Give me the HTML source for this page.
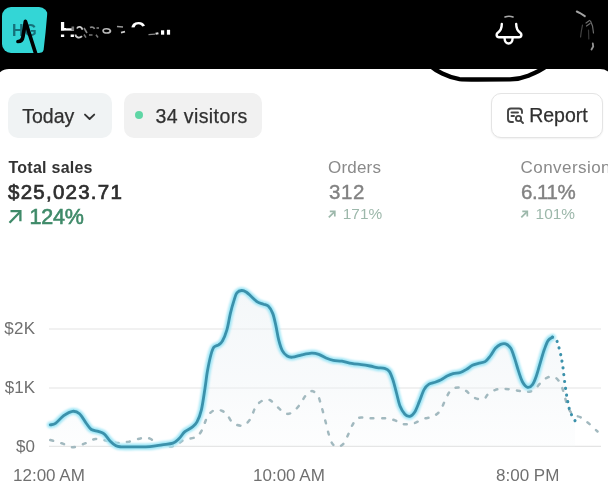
<!DOCTYPE html>
<html lang="en">
<head>
<meta charset="utf-8">
<title>Dashboard</title>
<style>
html,body{margin:0;padding:0;}
body{width:608px;height:498px;overflow:hidden;background:#000;font-family:"Liberation Sans",sans-serif;position:relative;}
#app{position:absolute;left:0;top:0;width:608px;height:498px;overflow:hidden;background:#000;}
.panel{position:absolute;left:-5px;top:68.8px;width:619px;height:440px;background:#fff;border-radius:14px 14px 0 0;}
.logo{position:absolute;left:1.5px;top:7px;width:46px;height:46px;border-radius:9px;background:#33d6d6;}
.logo span{position:absolute;left:10.5px;top:15px;font-size:16px;line-height:18px;font-weight:bold;color:#16717a;letter-spacing:0.6px;}
.nm{position:absolute;color:#fff;font-weight:bold;font-size:22px;line-height:24px;white-space:nowrap;}
.abs{position:absolute;white-space:nowrap;}
.btn{position:absolute;top:93px;height:44.5px;border-radius:10px;background:#f1f3f4;box-sizing:border-box;}
.btn .t{position:absolute;top:11.5px;font-size:19.5px;line-height:22px;color:#303030;white-space:nowrap;-webkit-text-stroke:0.25px #303030;}
.lbl{font-size:16px;line-height:18px;}
svg{position:absolute;left:0;top:0;}
</style>
</head>
<body>
<div id="app">
  <div class="panel"></div>

  <!-- header -->
  <div class="logo"><span>HG</span></div>
  <div class="nm" style="left:59.6px;top:18.2px;">H</div>
  <div class="nm" style="left:130.5px;top:17px;font-size:21px;">C</div>

  <!-- buttons -->
  <div class="btn" style="left:7.7px;width:104.5px;background:#f0f3f4;"><span class="t" style="left:14.5px;">Today</span></div>
  <div class="btn" style="left:123.5px;width:138.5px;background:#f1f1f1;"><span class="t" style="left:32px;letter-spacing:0.4px;">34 visitors</span></div>
  <div class="btn" style="left:491.4px;width:111.8px;background:#fff;border:1px solid #e4e4e4;box-shadow:0 1px 2px rgba(0,0,0,0.06);"><span class="t" style="left:36.8px;top:10px;">Report</span></div>

  <!-- stats -->
  <div class="abs" style="left:8.5px;top:158px;font-size:16px;line-height:20px;font-weight:bold;color:#333;letter-spacing:0.25px;">Total sales</div>
  <div class="abs" style="left:8px;top:180px;font-size:20.5px;line-height:24px;color:#2e2e2e;-webkit-text-stroke:0.7px #2e2e2e;letter-spacing:1.25px;">$25,023.71</div>
  <div class="abs" style="left:29.5px;top:204.7px;font-size:21.5px;line-height:24px;color:#3f8a69;-webkit-text-stroke:0.6px #3f8a69;letter-spacing:-0.2px;">124%</div>

  <div class="abs" style="left:328px;top:158px;font-size:17px;line-height:20px;color:#8a8a8a;letter-spacing:0.2px;">Orders</div>
  <div class="abs" style="left:329px;top:179.8px;font-size:20.5px;line-height:24px;color:#828282;-webkit-text-stroke:0.4px #828282;letter-spacing:0.6px;">312</div>
  <div class="abs" style="left:342.8px;top:204.3px;font-size:15.4px;line-height:20px;color:#9db8ab;">171%</div>

  <div class="abs" style="left:520.5px;top:158px;font-size:17px;line-height:20px;color:#8a8a8a;letter-spacing:0.45px;">Conversion</div>
  <div class="abs" style="left:521px;top:179.8px;font-size:20.5px;line-height:24px;color:#828282;-webkit-text-stroke:0.4px #828282;letter-spacing:-0.5px;">6.11%</div>
  <div class="abs" style="left:535.6px;top:204.3px;font-size:15.4px;line-height:20px;color:#9db8ab;">101%</div>

  <!-- axis labels -->
  <div class="abs" style="left:0;width:35.3px;text-align:right;top:319px;font-size:17px;line-height:20px;color:#707070;letter-spacing:0.3px;">$2K</div>
  <div class="abs" style="left:0;width:35px;text-align:right;top:378px;font-size:17px;line-height:20px;color:#707070;">$1K</div>
  <div class="abs" style="left:0;width:35px;text-align:right;top:437px;font-size:17px;line-height:20px;color:#707070;">$0</div>
  <div class="abs" style="left:13px;top:466px;font-size:17px;line-height:20px;color:#707070;">12:00 AM</div>
  <div class="abs" style="left:253px;top:466px;font-size:17px;line-height:20px;color:#707070;">10:00 AM</div>
  <div class="abs" style="left:496px;top:466px;font-size:17px;line-height:20px;color:#707070;">8:00 PM</div>

  <svg width="608" height="498" viewBox="0 0 608 498">
    <defs>
      <linearGradient id="ag" gradientUnits="userSpaceOnUse" x1="0" y1="290" x2="0" y2="446">
        <stop offset="0" stop-color="#ebf1f4" stop-opacity="0.55"/>
        <stop offset="0.6" stop-color="#eef3f6" stop-opacity="0.4"/>
        <stop offset="1" stop-color="#f4f7f9" stop-opacity="0.2"/>
      </linearGradient>
      <filter id="glow" x="-5%" y="-5%" width="110%" height="110%"><feGaussianBlur stdDeviation="1.2"/></filter>
      <filter id="soft" x="-5%" y="-5%" width="110%" height="110%"><feGaussianBlur stdDeviation="0.5"/></filter>
    </defs>
    <!-- header scribbles -->
    <g fill="none" stroke="#000" stroke-linecap="round" stroke-linejoin="round">
      <path d="M18,41.5 C21,41.5 22.5,40 23,36.5 L25.4,21.3 L35.8,54" stroke-width="3.7"/>
      <path d="M47.4,12 L48.6,12 L48.6,54 L41.5,54 L43.6,50 L45.6,32 Z" fill="#000" stroke="none"/>
      <path d="M57,32.6 L180,32.6" stroke-width="3.6" stroke-linecap="butt"/>
      <path d="M66,20 L78,20 L78,28.3 L66,28.3 Z" fill="#000" stroke="none"/>
      <path d="M126,27.4 L150,27.4 L150,42 L126,42 Z" fill="#000" stroke="none"/>
      <path d="M144.5,18 L150,18 L150,28 L145.5,28 Z" fill="#000" stroke="none"/>
      <path d="M57,38.2 L180,38.2 L180,44 L57,44 Z" fill="#000" stroke="none"/>
    </g>
    <g fill="none" stroke-linecap="butt">
      <path d="M72.8,26.5 L72.8,30.6" stroke="#777" stroke-width="2.6"/>
      <path d="M75.5,34.6 C75.5,38 80,38.4 82,36.2 M77,28.5 C78,26 82,26.2 82.3,29.8" stroke="#ccc" stroke-width="1.8"/>
      <path d="M84,34.5 L86,37.6 M89,35 L92.5,35 M96,34.8 L98,37.5" stroke="#777" stroke-width="1.5"/>
      <path d="M84,28 L87,33 M90,27.5 C92,26.5 94,27.5 94.5,29 M96.5,28 L99,28" stroke="#888" stroke-width="1.6"/>
      <path d="M103,31 C103,28 110,28 110.5,31 C110,33.5 104,34 103,31" stroke="#bbb" stroke-width="1.6"/>
      <path d="M117,26.6 L123,27" stroke="#999" stroke-width="1.5"/>
      <path d="M121,32.6 L125,31.6" stroke="#ccc" stroke-width="1.6"/>
      <path d="M148.5,34.6 L155,34.2" stroke="#888" stroke-width="1.2"/>
      <path d="M155.5,33.8 L158.4,33.2" stroke="#ddd" stroke-width="2"/>
      <path d="M162.6,30.3 L162.6,34.7" stroke="#fff" stroke-width="3.2"/>
      <path d="M168.5,29.8 L168.5,34.7" stroke="#fff" stroke-width="3.2"/>
    </g>
    <g fill="none" stroke="#000" stroke-linecap="round" stroke-linejoin="round">
      <path d="M430.5,66 C434,69 438,71.5 442.3,73.5 C447,75.8 452,78 459.5,79.1 C463,79.5 470,79.5 478,79.5 L510,79.4 C518,79.3 523,77.8 528.3,75.7 C534,73.3 540,71 546,66.5" stroke-width="4.3"/>
    </g>
    <!-- bell -->
    <g fill="none" stroke="#fff" stroke-width="2.4" stroke-linecap="round" stroke-linejoin="round">
      <path d="M501.8,24 C501.8,29 500.3,31 497.8,32.7 C496,33.9 496.3,37.2 499,37.2 L519,37.2 C521.7,37.2 522,33.9 520.2,32.7 C517.7,31 516.2,29 516.2,24"/>
      <path d="M504.6,38.2 C504.6,45.2 512.6,45.2 512.6,38.2"/>
      <path d="M505,17 C507.5,16 510.5,16 513,17" stroke="#aaa" stroke-width="1.6"/>
    </g>
    <!-- right scribble -->
    <g fill="none" stroke="#777" stroke-width="1.2" stroke-linecap="round" opacity="0.8">
      <path d="M576.8,11.5 L580,13 L584.8,16.2" stroke="#ccc" stroke-width="2"/>
      <path d="M586,23 L589.5,20.5 M586.5,26 L590,23.5 M590.5,21 L592.5,26 L593.5,33" stroke="#888"/>
      <path d="M582.5,25 L581.2,32 L580.6,37" stroke="#555"/>
      <path d="M588.5,30 L588.8,39" stroke="#444"/>
      <path d="M592.8,43.5 L593.2,46.5 L591.5,49.5" stroke="#bbb" stroke-width="1.8"/>
    </g>
    <!-- today chevron -->
    <path d="M85,114.6 L89.6,119 L94.2,114.6" fill="none" stroke="#333" stroke-width="1.9" stroke-linecap="round" stroke-linejoin="round"/>
    <!-- visitors dot -->
    <circle cx="139" cy="115" r="4" fill="#5fd6a5"/>
    <!-- report icon -->
    <g fill="none" stroke="#444" stroke-width="1.9" stroke-linecap="round" stroke-linejoin="round">
      <path d="M513,122 L511,122 C509,122 508,121 508,119 L508,111.5 C508,109.5 509,108.5 511,108.5 L519,108.5 C521,108.5 522,109.5 522,111.5 L522,113"/>
      <path d="M511.5,112.5 L518,112.5"/>
      <path d="M511.5,116 L514,116"/>
      <circle cx="518.5" cy="118.5" r="2.6"/>
      <path d="M520.6,120.6 L523,123"/>
    </g>
    <!-- arrows -->
    <g fill="none" stroke="#3f8a69" stroke-width="2.3" stroke-linecap="butt" stroke-linejoin="miter">
      <path d="M9.5,222.8 L20,212"/><path d="M10.5,211.2 L20.4,211.2 L20.4,221.2"/>
    </g>
    <g fill="none" stroke="#9db8ab" stroke-width="1.7">
      <path d="M328.8,217.4 L334.4,211.8"/><path d="M329.8,211.3 L334.8,211.3 L334.8,216.4"/>
      <path d="M521.3,217.4 L526.9,211.8"/><path d="M522.3,211.3 L527.3,211.3 L527.3,216.4"/>
    </g>
    <!-- grid -->
    <g stroke="#e4e4e4" stroke-width="1.2">
      <line x1="49" y1="329" x2="601" y2="329"/>
      <line x1="49" y1="388" x2="601" y2="388"/>
      <line x1="49" y1="446.3" x2="601" y2="446.3"/>
    </g>
    <!-- area -->
    <path d="M50.3,424.9C51.2,424.6 53.3,424.9 55.5,423.4C57.7,421.9 60.9,417.7 63.7,415.7C66.5,413.7 70.0,411.6 72.6,411.3C75.2,411.0 77.2,411.7 79.5,413.7C81.8,415.7 84.4,420.9 86.4,423.5C88.4,426.1 89.3,428.2 91.3,429.5C93.3,430.8 96.1,430.7 98.2,431.4C100.3,432.1 102.1,432.2 104.1,433.8C106.1,435.4 108.0,438.9 110.0,440.9C112.0,442.9 114.2,444.7 116.0,445.7C117.8,446.7 117.8,446.6 121.0,446.8C124.2,447.0 130.2,446.8 135.0,446.8C139.8,446.8 145.5,446.9 150.0,446.6C154.5,446.3 158.2,445.4 162.0,444.8C165.8,444.2 170.1,444.1 172.9,443.1C175.7,442.1 176.9,440.7 178.9,438.8C180.9,436.9 182.7,433.5 184.9,431.6C187.1,429.7 190.2,428.8 192.2,427.2C194.2,425.6 195.5,424.8 197.0,421.9C198.5,419.0 200.1,415.5 201.4,409.9C202.7,404.3 204.0,394.6 205.0,388.2C206.0,381.8 206.4,376.9 207.4,371.3C208.4,365.7 209.9,358.5 211.0,354.5C212.1,350.5 212.6,348.8 213.9,347.2C215.2,345.6 217.3,345.8 218.7,344.8C220.1,343.8 221.0,343.6 222.3,341.2C223.7,338.8 225.5,334.8 226.8,330.2C228.2,325.6 229.2,318.4 230.4,313.4C231.6,308.4 233.0,303.5 234.1,300.1C235.2,296.7 235.6,294.5 236.9,292.9C238.2,291.3 240.1,290.6 241.7,290.5C243.3,290.4 244.9,291.2 246.5,292.2C248.1,293.2 249.5,294.9 251.3,296.5C253.1,298.1 255.3,300.5 257.3,301.8C259.3,303.1 261.6,303.5 263.4,304.2C265.2,304.9 266.6,304.6 268.2,306.1C269.8,307.6 271.4,310.2 272.7,313.4C274.0,316.6 274.8,321.0 275.8,325.4C276.8,329.8 277.6,335.7 278.7,339.9C279.8,344.1 280.9,348.0 282.3,350.7C283.7,353.4 285.5,354.9 287.2,356.0C288.9,357.1 289.9,357.4 292.3,357.2C294.8,357.0 298.7,355.5 301.9,354.8C305.1,354.1 308.8,353.2 311.6,353.1C314.4,353.0 316.4,353.5 318.8,354.3C321.2,355.1 323.6,357.0 326.0,358.0C328.4,359.0 330.7,359.9 333.3,360.4C335.9,360.9 338.8,360.7 341.9,361.2C344.9,361.7 348.4,362.8 351.6,363.4C354.8,364.0 358.1,364.2 361.2,364.6C364.3,365.0 367.3,365.5 370.0,366.0C372.7,366.5 374.8,367.3 377.2,367.7C379.6,368.1 382.5,367.8 384.5,368.4C386.5,369.0 387.9,369.4 389.3,371.3C390.7,373.2 391.7,376.2 392.9,379.8C394.1,383.4 395.3,388.6 396.5,393.0C397.7,397.4 398.7,402.8 400.1,406.3C401.5,409.8 403.3,412.5 404.9,414.2C406.5,415.9 408.2,416.7 409.8,416.4C411.4,416.1 413.0,414.8 414.6,412.3C416.2,409.8 417.8,405.2 419.4,401.4C421.0,397.6 422.6,392.3 424.2,389.4C425.8,386.5 427.2,385.3 429.0,384.1C430.8,382.9 433.1,382.9 435.1,382.2C437.1,381.5 439.1,380.8 441.1,379.8C443.1,378.8 445.1,377.1 447.1,376.1C449.1,375.1 450.9,374.3 453.1,373.7C455.3,373.1 458.2,373.2 460.4,372.5C462.6,371.8 464.4,370.6 466.4,369.4C468.4,368.2 470.4,366.3 472.4,365.3C474.4,364.3 476.3,364.0 478.4,363.4C480.5,362.8 483.1,362.8 485.1,361.6C487.1,360.4 488.6,358.2 490.3,356.0C492.0,353.8 493.7,350.2 495.4,348.3C497.1,346.4 498.9,345.1 500.6,344.4C502.3,343.7 504.0,343.2 505.7,343.9C507.4,344.5 509.3,345.9 510.8,348.3C512.3,350.8 513.4,354.8 514.7,358.6C516.0,362.5 517.3,367.5 518.6,371.4C519.9,375.2 520.9,379.0 522.4,381.7C523.9,384.4 525.9,386.9 527.6,387.3C529.3,387.7 531.2,386.3 532.7,384.3C534.2,382.3 535.3,379.0 536.6,375.3C537.9,371.6 539.1,366.7 540.4,362.4C541.7,358.1 543.0,353.2 544.3,349.6C545.6,346.0 546.7,342.7 548.1,340.6C549.5,338.5 551.8,337.8 552.5,337.2C553.2,336.6 552.0,337.0 552.5,337.2C553.0,337.4 554.8,337.1 555.8,338.5C556.8,339.9 557.5,342.8 558.4,345.7C559.3,348.6 560.3,352.6 561.0,356.0C561.7,359.4 562.2,362.4 562.8,366.3C563.3,370.2 563.8,374.8 564.3,379.1C564.8,383.4 565.5,388.1 566.1,392.0C566.7,395.9 567.2,399.1 567.9,402.3C568.5,405.5 569.2,409.0 570.0,411.3C570.8,413.6 571.6,414.8 572.5,416.4C573.4,418.0 574.7,420.1 575.1,420.8L575.1,446.5L50.3,446.5Z" fill="url(#ag)"/>
    <!-- dashed -->
    <path d="M50.3,440.0C52.2,440.6 58.0,442.1 61.7,443.3C65.4,444.5 68.8,447.1 72.6,447.2C76.4,447.3 80.6,445.1 84.4,443.7C88.2,442.3 91.5,439.5 95.3,439.0C99.1,438.5 103.2,440.1 107.0,440.7C110.8,441.3 114.4,442.7 118.0,442.9C121.6,443.1 125.0,442.4 128.8,441.7C132.6,440.9 137.1,438.9 140.6,438.4C144.1,437.9 146.8,437.4 150.0,438.6C153.2,439.8 155.6,444.3 159.6,445.5C163.6,446.7 170.1,446.9 174.1,446.0C178.1,445.1 180.1,441.5 183.7,440.0C187.3,438.5 192.8,438.7 195.8,437.1C198.8,435.5 199.8,433.9 201.8,430.4C203.8,426.9 205.6,419.3 207.8,415.9C210.0,412.5 212.6,410.7 215.0,409.9C217.4,409.1 220.3,410.2 222.3,411.0C224.3,411.8 225.3,412.7 227.1,414.7C228.9,416.7 230.5,421.3 233.1,423.1C235.7,424.9 240.0,426.1 242.8,425.5C245.6,424.9 247.8,422.7 250.0,419.5C252.2,416.3 253.8,409.5 256.0,406.3C258.2,403.1 261.0,401.2 263.3,400.2C265.6,399.2 267.6,399.0 270.0,400.2C272.4,401.4 275.4,405.3 278.0,407.5C280.6,409.7 282.9,412.7 285.3,413.5C287.7,414.3 290.1,413.8 292.5,412.3C294.9,410.8 297.6,407.4 299.8,404.6C302.0,401.8 303.8,397.6 305.8,395.4C307.8,393.1 309.8,391.1 311.8,391.1C313.8,391.1 316.2,392.9 317.8,395.4C319.4,397.9 320.2,402.3 321.4,406.3C322.6,410.3 323.8,414.9 325.0,419.5C326.2,424.1 327.5,430.0 328.7,434.0C329.9,438.0 330.9,441.5 332.3,443.6C333.7,445.7 335.3,446.6 337.1,446.7C338.9,446.8 341.3,446.0 343.1,444.1C344.9,442.2 346.3,438.5 347.9,435.2C349.5,431.9 351.2,427.1 352.8,424.3C354.4,421.5 355.8,419.4 357.6,418.3C359.4,417.2 361.4,417.6 363.6,417.6C365.8,417.6 367.3,418.2 370.8,418.3C374.3,418.4 380.6,418.0 384.5,418.3C388.4,418.6 391.3,419.1 394.1,420.0C396.9,420.9 399.1,422.9 401.3,423.6C403.5,424.3 405.1,424.4 407.3,424.3C409.5,424.2 412.0,424.0 414.6,423.1C417.2,422.2 420.0,420.1 423.0,419.0C426.0,417.9 429.9,417.9 432.7,416.6C435.5,415.3 437.9,413.6 439.9,411.1C441.9,408.6 443.1,404.6 444.7,401.4C446.3,398.2 447.9,394.0 449.5,391.8C451.1,389.6 452.5,388.9 454.3,388.2C456.1,387.5 458.4,387.2 460.4,387.7C462.4,388.2 464.4,389.6 466.4,391.1C468.4,392.6 470.4,395.3 472.4,396.6C474.4,397.9 476.4,398.7 478.4,399.0C480.4,399.3 482.9,399.3 484.5,398.6C486.1,397.9 485.9,396.1 487.7,394.6C489.5,393.2 492.8,390.8 495.4,389.9C498.0,388.9 500.5,389.0 503.1,388.9C505.7,388.8 508.2,389.1 510.8,389.4C513.4,389.7 516.0,390.3 518.6,390.7C521.2,391.1 523.7,392.1 526.3,392.0C528.9,391.9 531.6,391.4 534.0,389.9C536.4,388.4 538.3,385.0 540.4,383.0C542.5,381.0 544.6,378.9 546.8,377.8C548.9,376.7 551.4,376.2 553.3,376.6C555.2,377.0 556.9,378.5 558.4,380.4C559.9,382.3 561.2,385.3 562.3,388.1C563.4,390.9 563.7,393.7 564.8,397.1C565.9,400.5 567.2,405.7 568.7,408.7C570.2,411.7 571.9,413.7 573.8,415.1C575.7,416.5 577.9,415.9 580.3,417.2C582.7,418.5 585.1,420.4 588.0,422.8C590.9,425.2 595.9,430.1 597.5,431.5" fill="none" stroke="#a2b9bf" stroke-width="2.5" stroke-dasharray="3 8.4" stroke-linecap="round"/>
    <!-- glow -->
    <path d="M50.3,424.9C51.2,424.6 53.3,424.9 55.5,423.4C57.7,421.9 60.9,417.7 63.7,415.7C66.5,413.7 70.0,411.6 72.6,411.3C75.2,411.0 77.2,411.7 79.5,413.7C81.8,415.7 84.4,420.9 86.4,423.5C88.4,426.1 89.3,428.2 91.3,429.5C93.3,430.8 96.1,430.7 98.2,431.4C100.3,432.1 102.1,432.2 104.1,433.8C106.1,435.4 108.0,438.9 110.0,440.9C112.0,442.9 114.2,444.7 116.0,445.7C117.8,446.7 117.8,446.6 121.0,446.8C124.2,447.0 130.2,446.8 135.0,446.8C139.8,446.8 145.5,446.9 150.0,446.6C154.5,446.3 158.2,445.4 162.0,444.8C165.8,444.2 170.1,444.1 172.9,443.1C175.7,442.1 176.9,440.7 178.9,438.8C180.9,436.9 182.7,433.5 184.9,431.6C187.1,429.7 190.2,428.8 192.2,427.2C194.2,425.6 195.5,424.8 197.0,421.9C198.5,419.0 200.1,415.5 201.4,409.9C202.7,404.3 204.0,394.6 205.0,388.2C206.0,381.8 206.4,376.9 207.4,371.3C208.4,365.7 209.9,358.5 211.0,354.5C212.1,350.5 212.6,348.8 213.9,347.2C215.2,345.6 217.3,345.8 218.7,344.8C220.1,343.8 221.0,343.6 222.3,341.2C223.7,338.8 225.5,334.8 226.8,330.2C228.2,325.6 229.2,318.4 230.4,313.4C231.6,308.4 233.0,303.5 234.1,300.1C235.2,296.7 235.6,294.5 236.9,292.9C238.2,291.3 240.1,290.6 241.7,290.5C243.3,290.4 244.9,291.2 246.5,292.2C248.1,293.2 249.5,294.9 251.3,296.5C253.1,298.1 255.3,300.5 257.3,301.8C259.3,303.1 261.6,303.5 263.4,304.2C265.2,304.9 266.6,304.6 268.2,306.1C269.8,307.6 271.4,310.2 272.7,313.4C274.0,316.6 274.8,321.0 275.8,325.4C276.8,329.8 277.6,335.7 278.7,339.9C279.8,344.1 280.9,348.0 282.3,350.7C283.7,353.4 285.5,354.9 287.2,356.0C288.9,357.1 289.9,357.4 292.3,357.2C294.8,357.0 298.7,355.5 301.9,354.8C305.1,354.1 308.8,353.2 311.6,353.1C314.4,353.0 316.4,353.5 318.8,354.3C321.2,355.1 323.6,357.0 326.0,358.0C328.4,359.0 330.7,359.9 333.3,360.4C335.9,360.9 338.8,360.7 341.9,361.2C344.9,361.7 348.4,362.8 351.6,363.4C354.8,364.0 358.1,364.2 361.2,364.6C364.3,365.0 367.3,365.5 370.0,366.0C372.7,366.5 374.8,367.3 377.2,367.7C379.6,368.1 382.5,367.8 384.5,368.4C386.5,369.0 387.9,369.4 389.3,371.3C390.7,373.2 391.7,376.2 392.9,379.8C394.1,383.4 395.3,388.6 396.5,393.0C397.7,397.4 398.7,402.8 400.1,406.3C401.5,409.8 403.3,412.5 404.9,414.2C406.5,415.9 408.2,416.7 409.8,416.4C411.4,416.1 413.0,414.8 414.6,412.3C416.2,409.8 417.8,405.2 419.4,401.4C421.0,397.6 422.6,392.3 424.2,389.4C425.8,386.5 427.2,385.3 429.0,384.1C430.8,382.9 433.1,382.9 435.1,382.2C437.1,381.5 439.1,380.8 441.1,379.8C443.1,378.8 445.1,377.1 447.1,376.1C449.1,375.1 450.9,374.3 453.1,373.7C455.3,373.1 458.2,373.2 460.4,372.5C462.6,371.8 464.4,370.6 466.4,369.4C468.4,368.2 470.4,366.3 472.4,365.3C474.4,364.3 476.3,364.0 478.4,363.4C480.5,362.8 483.1,362.8 485.1,361.6C487.1,360.4 488.6,358.2 490.3,356.0C492.0,353.8 493.7,350.2 495.4,348.3C497.1,346.4 498.9,345.1 500.6,344.4C502.3,343.7 504.0,343.2 505.7,343.9C507.4,344.5 509.3,345.9 510.8,348.3C512.3,350.8 513.4,354.8 514.7,358.6C516.0,362.5 517.3,367.5 518.6,371.4C519.9,375.2 520.9,379.0 522.4,381.7C523.9,384.4 525.9,386.9 527.6,387.3C529.3,387.7 531.2,386.3 532.7,384.3C534.2,382.3 535.3,379.0 536.6,375.3C537.9,371.6 539.1,366.7 540.4,362.4C541.7,358.1 543.0,353.2 544.3,349.6C545.6,346.0 546.7,342.7 548.1,340.6C549.5,338.5 551.8,337.8 552.5,337.2" fill="none" stroke="#9fe6f6" stroke-width="6.6" stroke-linecap="round" stroke-linejoin="round" filter="url(#glow)"/>
    <!-- solid -->
    <path d="M50.3,424.9C51.2,424.6 53.3,424.9 55.5,423.4C57.7,421.9 60.9,417.7 63.7,415.7C66.5,413.7 70.0,411.6 72.6,411.3C75.2,411.0 77.2,411.7 79.5,413.7C81.8,415.7 84.4,420.9 86.4,423.5C88.4,426.1 89.3,428.2 91.3,429.5C93.3,430.8 96.1,430.7 98.2,431.4C100.3,432.1 102.1,432.2 104.1,433.8C106.1,435.4 108.0,438.9 110.0,440.9C112.0,442.9 114.2,444.7 116.0,445.7C117.8,446.7 117.8,446.6 121.0,446.8C124.2,447.0 130.2,446.8 135.0,446.8C139.8,446.8 145.5,446.9 150.0,446.6C154.5,446.3 158.2,445.4 162.0,444.8C165.8,444.2 170.1,444.1 172.9,443.1C175.7,442.1 176.9,440.7 178.9,438.8C180.9,436.9 182.7,433.5 184.9,431.6C187.1,429.7 190.2,428.8 192.2,427.2C194.2,425.6 195.5,424.8 197.0,421.9C198.5,419.0 200.1,415.5 201.4,409.9C202.7,404.3 204.0,394.6 205.0,388.2C206.0,381.8 206.4,376.9 207.4,371.3C208.4,365.7 209.9,358.5 211.0,354.5C212.1,350.5 212.6,348.8 213.9,347.2C215.2,345.6 217.3,345.8 218.7,344.8C220.1,343.8 221.0,343.6 222.3,341.2C223.7,338.8 225.5,334.8 226.8,330.2C228.2,325.6 229.2,318.4 230.4,313.4C231.6,308.4 233.0,303.5 234.1,300.1C235.2,296.7 235.6,294.5 236.9,292.9C238.2,291.3 240.1,290.6 241.7,290.5C243.3,290.4 244.9,291.2 246.5,292.2C248.1,293.2 249.5,294.9 251.3,296.5C253.1,298.1 255.3,300.5 257.3,301.8C259.3,303.1 261.6,303.5 263.4,304.2C265.2,304.9 266.6,304.6 268.2,306.1C269.8,307.6 271.4,310.2 272.7,313.4C274.0,316.6 274.8,321.0 275.8,325.4C276.8,329.8 277.6,335.7 278.7,339.9C279.8,344.1 280.9,348.0 282.3,350.7C283.7,353.4 285.5,354.9 287.2,356.0C288.9,357.1 289.9,357.4 292.3,357.2C294.8,357.0 298.7,355.5 301.9,354.8C305.1,354.1 308.8,353.2 311.6,353.1C314.4,353.0 316.4,353.5 318.8,354.3C321.2,355.1 323.6,357.0 326.0,358.0C328.4,359.0 330.7,359.9 333.3,360.4C335.9,360.9 338.8,360.7 341.9,361.2C344.9,361.7 348.4,362.8 351.6,363.4C354.8,364.0 358.1,364.2 361.2,364.6C364.3,365.0 367.3,365.5 370.0,366.0C372.7,366.5 374.8,367.3 377.2,367.7C379.6,368.1 382.5,367.8 384.5,368.4C386.5,369.0 387.9,369.4 389.3,371.3C390.7,373.2 391.7,376.2 392.9,379.8C394.1,383.4 395.3,388.6 396.5,393.0C397.7,397.4 398.7,402.8 400.1,406.3C401.5,409.8 403.3,412.5 404.9,414.2C406.5,415.9 408.2,416.7 409.8,416.4C411.4,416.1 413.0,414.8 414.6,412.3C416.2,409.8 417.8,405.2 419.4,401.4C421.0,397.6 422.6,392.3 424.2,389.4C425.8,386.5 427.2,385.3 429.0,384.1C430.8,382.9 433.1,382.9 435.1,382.2C437.1,381.5 439.1,380.8 441.1,379.8C443.1,378.8 445.1,377.1 447.1,376.1C449.1,375.1 450.9,374.3 453.1,373.7C455.3,373.1 458.2,373.2 460.4,372.5C462.6,371.8 464.4,370.6 466.4,369.4C468.4,368.2 470.4,366.3 472.4,365.3C474.4,364.3 476.3,364.0 478.4,363.4C480.5,362.8 483.1,362.8 485.1,361.6C487.1,360.4 488.6,358.2 490.3,356.0C492.0,353.8 493.7,350.2 495.4,348.3C497.1,346.4 498.9,345.1 500.6,344.4C502.3,343.7 504.0,343.2 505.7,343.9C507.4,344.5 509.3,345.9 510.8,348.3C512.3,350.8 513.4,354.8 514.7,358.6C516.0,362.5 517.3,367.5 518.6,371.4C519.9,375.2 520.9,379.0 522.4,381.7C523.9,384.4 525.9,386.9 527.6,387.3C529.3,387.7 531.2,386.3 532.7,384.3C534.2,382.3 535.3,379.0 536.6,375.3C537.9,371.6 539.1,366.7 540.4,362.4C541.7,358.1 543.0,353.2 544.3,349.6C545.6,346.0 546.7,342.7 548.1,340.6C549.5,338.5 551.8,337.8 552.5,337.2" fill="none" stroke="#3b91ab" stroke-width="2.8" stroke-linecap="round" stroke-linejoin="round"/>
    <path d="M552.5,337.2C553.0,337.4 554.8,337.1 555.8,338.5C556.8,339.9 557.5,342.8 558.4,345.7C559.3,348.6 560.3,352.6 561.0,356.0C561.7,359.4 562.2,362.4 562.8,366.3C563.3,370.2 563.8,374.8 564.3,379.1C564.8,383.4 565.5,388.1 566.1,392.0C566.7,395.9 567.2,399.1 567.9,402.3C568.5,405.5 569.2,409.0 570.0,411.3C570.8,413.6 571.6,414.8 572.5,416.4C573.4,418.0 574.7,420.1 575.1,420.8" fill="none" stroke="#3b91ab" stroke-width="3.1" stroke-dasharray="0.1 6.7" stroke-linecap="round"/>
  </svg>
</div>
</body>
</html>
